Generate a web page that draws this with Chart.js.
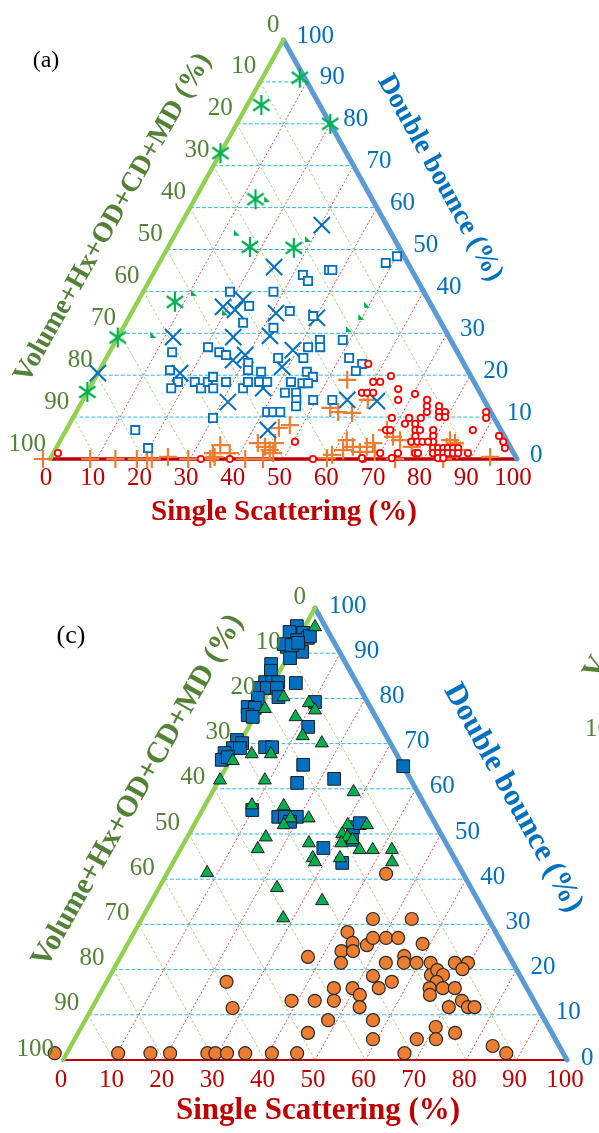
<!DOCTYPE html>
<html>
<head>
<meta charset="utf-8">
<script src="https://cdn.jsdelivr.net/npm/chart.js@4.4.1/dist/chart.umd.min.js"></script>
<style>
  body { margin: 0; background: #fff; width: 599px; height: 1133px; overflow: hidden; position: relative; }
  canvas { position: absolute; left: 0; }
  #chartA { top: 0; }
  #chartC { top: 560px; }
</style>
</head>
<body>
<canvas id="chartA" width="599" height="540"></canvas>
<canvas id="chartC" width="599" height="573"></canvas>
<script>
const SQ = Math.sqrt(3) / 2;

// tick values on the three ternary axes
const gridTicks = [10, 20, 30, 40, 50, 60, 70, 80, 90];
const tickLabels = [0, 10, 20, 30, 40, 50, 60, 70, 80, 90, 100];

// every point is [single scattering %, double bounce %]; volume = 100 - both
// panel (a)
const aAsterisk = [[8,91],[20,80],[3,84.5],[0,73],[13,62],[17.5,50.6],[27,50.4],[8,37.5],[0,29],[0,16]];
const aTriangle = [[15.5,62],[13,54],[29,52.5],[11,39.6],[20,35],[7.3,29.6],[49.5,36.8],[49.7,33.9],[48.5,31]];
const aCross = [[30.3,55.8],[25.1,45.8],[18.9,36.3],[22.4,37.9],[21.8,35.6],[31,34.8],[40.3,33.7],[11.8,29.1],
  [24.7,29.1],[32.4,29.4],[29.4,24.8],[27.4,23.6],[39,26],[38.7,22],[17.6,20.5],[37.2,16.9],[31.3,13.6],
  [43.2,6.9],[0,20.5],[56.6,14.1],[63.1,13.8]];
const aSquare = [[32.2,43.9],[34,42.5],[37.2,45.1],[27.9,39.9],[18.6,39.9],[24.4,36.5],[33.7,35.3],[39.3,34.1],
  [25.1,32.5],[32.2,31.3],[20.5,26.7],[23.5,25.5],[13.4,25.5],[25.3,24.8],[41.9,26.7],[43.6,28.4],[44.5,26.7],
  [42.2,24.1],[36.8,24.1],[31,22.9],[31.8,21.2],[15.1,21.2],[34.8,20.8],[44.6,20.8],[46.5,19.6],[18.2,18.4],
  [21.8,18.4],[23.9,16.9],[24.6,18.4],[25.1,19.6],[26.5,16.9],[28.5,18.4],[32.9,16.9],[33.2,18.4],[35.6,18.4],
  [37.3,18.4],[42.4,18.4],[45,18.1],[46.2,18.1],[17.5,16.9],[42.4,15.8],[44.8,15.8],[45.7,14.1],[46.4,12.6],
  [49.3,14.1],[40.9,11.2],[42.2,11.2],[43.7,11.2],[30,9.8],[14.8,6.9],[19.7,2.6],[50.1,48.4],[48.5,46.8],
  [37.9,45.1],[48.5,28.4],[52,24.1],[55.5,22.7],[55,21],[53.4,14.1]];
const aPlus = [[-1.5,0],[8.6,0],[14,0],[18.6,0],[20.8,0],[21.8,0],[25,0.5],[29.6,0],[34.3,0],[35,0.5],[34.8,3.3],
  [37.8,1.4],[41.8,0],[42.6,3.8],[44.6,2.9],[46,2.1],[46.3,3.8],[47.1,1.4],[45.6,0],[45.3,7.4],[47.3,8.1],
  [54.2,18.9],[53.9,12.2],[56.1,11.2],[59.2,11],[59.2,0.2],[61.3,4.5],[63.4,2.9],[65.5,1.7],[66.4,2.9],[68.7,1.7],
  [67.3,3.8],[61,14.1],[68.7,6.9],[70.8,5.3],[73.9,0],[76,2.9],[83.5,2.9],[83.4,4.5],[84.8,3.8],[84.2,0],
  [86.1,2.1],[94,0.5],[61.7,2.1],[59.9,1],[72.7,4.5],[34.2,1.4]];
const aCircle = [[1,1.4],[32.3,0],[38.5,0],[50.4,4.1],[56.3,0],[67,0],[56.8,22.7],[60,18.4],[61.5,18.4],[63.1,19.8],
  [58.9,15.8],[60,15.8],[61.3,15.8],[66.2,16.7],[67.5,14.1],[70.4,15.5],[73.7,14.1],[74.4,12.6],[75.1,11.2],
  [77,12.6],[77.7,11.2],[78.3,10],[79,11.2],[79.6,10],[68.3,9.8],[72,9.8],[74.5,9.8],[71.8,8.4],[74,8.4],
  [68.5,6.9],[69.4,6.9],[74.8,6.9],[75.5,5.5],[75.8,6.9],[75.3,4.1],[76.6,4.1],[77.7,4.1],[78.6,6.9],[79.3,5.5],
  [80,4.1],[78.9,4.1],[80.7,2.6],[81.8,2.6],[82.9,2.6],[83.9,2.6],[85,2.6],[86.1,2.6],[77.5,1.4],[78.1,1.4],
  [81.3,1.4],[82.4,1.4],[83.5,1.4],[84.5,1.4],[85.6,1.4],[86.7,1.4],[83,0.2],[84.1,0.2],[88.8,1.4],[87.1,6.9],
  [87.8,11.2],[88.5,9.8],[93.4,5.5],[95,4.1],[96.1,2.6],[70,1.4],[73.1,0.2],[73.8,1.4],[66.7,0.2]];

// panel (c)
const cSquare = [[-1.6,96],[0.4,94.5],[-2.4,94.7],[1.9,93.4],[0,92.9],[-1.3,91.4],[2.3,90.3],[0.6,88.9],[-2.2,92],
  [-0.5,91.8],[2.1,93.8],[0.5,92.3],[-2.5,87.6],[-1.8,86.1],[-1.7,83.6],[-0.3,83.6],[0.9,83.6],[-2.1,82.3],
  [-0.7,82.3],[1.3,82.3],[-1.4,80.1],[-2.4,78.1],[-0.9,77.9],[-1.5,76.3],[-0.3,75.9],[2.6,80.3],[4.5,83.4],
  [-0.9,70.8],[0.5,70.1],[-0.8,69],[0.6,69],[-1.9,67.9],[-1.7,66.4],[-0.8,67],[5.5,69.2],[6.9,69.2],[10.4,79.2],
  [11.8,73.7],[15,65.3],[15.8,61.3],[22.7,62.2],[35,65],[9.9,55.3],[15.8,53.8],[17.1,53.8],[19.5,53.8],
  [18.7,52.7],[31.8,51.5],[32.7,52.4],[33,48.7],[28.2,46.9],[33.6,43.6]];
const cTriangle = [[2.1,95.8],[3.6,80.3],[1.2,77.7],[8.2,75.9],[9.3,79],[11.3,77.4],[11.7,71.7],[16.3,70.1],
  [3.6,67.7],[7.4,67.7],[0.6,66.2],[0.2,61.9],[9.1,61.9],[28,59.3],[9.3,56.4],[15.7,56.2],[18.4,53.5],[22,53.5],
  [17.8,52],[30.5,52],[34.3,52],[30.4,50],[31.8,49.3],[33.1,48.7],[31.2,48],[15.6,49.3],[24.8,48],[15.3,46.7],
  [35.6,46.5],[38.2,46.5],[42,46.5],[27.2,44.7],[32.6,44.7],[43.4,43.8],[33.8,35.2],[7.9,41.4],[23.4,38.1],
  [28,31.4],[28.1,43.8]];
const cCircle = [[45.9,31.2],[53.6,31.2],[42.3,28.3],[44.5,25.9],[43.2,24.1],[45.5,24.1],[47.6,25.4],[48,27],
  [50.6,27],[53,27],[58.5,25.7],[37.2,22.8],[44.4,21.5],[53.3,21.5],[56.2,23],[56.9,21.5],[59.4,21.5],[62.2,21.5],
  [67,21.5],[69.6,21.5],[69.2,20.1],[63.6,18.8],[64.3,19.9],[66,18.8],[65.5,17.3],[52.2,18.6],[56.6,17.3],
  [54.7,15.9],[49.5,15.9],[51.7,14.4],[53,11.7],[45.8,15.9],[47.2,13.1],[43.4,13.1],[38.8,13.1],[64.8,15.9],
  [65.6,14.4],[67.4,15.9],[69.8,15.9],[72.6,13.1],[74.5,11.7],[75.8,11.7],[70.7,11.7],[48.2,8.8],[57.1,8.8],
  [45.6,6],[59.2,4.6],[67.9,4.6],[70.3,7.3],[71.7,4.6],[74.8,6],[83.7,3.1],[23.8,17.3],[27.9,11.5],[43.5,41.2],
  [-2.4,1.5],[10.2,1.5],[16.6,1.5],[20.5,1.5],[27.9,1.5],[29.5,1.5],[31.8,1.5],[35.4,1.5],[40.7,1.5],[45.7,1.5],
  [67,1.5],[87.2,1.5]];

const RED_TXT = '#c00000', BLUE_TXT = '#0070c0', GREEN_TXT = '#538135';
const SERIF = '"Liberation Serif", "Times New Roman", serif';

// ternary (single, double) -> cartesian for the linear scales
function toXY(pairs) {
    return pairs.map(p => ({ x: p[0] + p[1] / 2, y: p[1] * SQ }));
}

function lineSet(points, color, width, dash) {
    return {
        data: toXY(points), showLine: true, pointRadius: 0, borderColor: color,
        borderWidth: width, borderDash: dash || [], clip: false, order: 20
    };
}

function gridSets() {
    const sets = [];
    gridTicks.forEach(t => {
        sets.push(lineSet([[t, 0], [t, 100 - t]], '#e2504a', 1, [2, 2]));        // constant single scattering
        sets.push(lineSet([[0, t], [100 - t, t]], '#2fb5ee', 1, [4, 2]));        // constant double bounce
        sets.push(lineSet([[0, 100 - t], [100 - t, 0]], '#a9d67a', 1, [3, 2]));  // constant volume
    });
    return sets;
}

function frameSets(bottomWidth) {
    const left = lineSet([[0, 0], [0, 100]], '#92d050', 4.5);
    const right = lineSet([[100, 0], [0, 100]], '#5b9bd5', 5);
    const bottom = lineSet([[0, 0], [100, 0]], '#c00000', bottomWidth);
    [left, right, bottom].forEach(s => { s.order = 15; s.borderCapStyle = 'round'; });
    return [left, right, bottom];
}

// hoverRadius only widens the "in area" margin so marks just outside the triangle still draw
function markerSet(points, style, extra) {
    return Object.assign({ data: toXY(points), pointStyle: style, showLine: false, clip: false, hoverRadius: 20 }, extra);
}

function asteriskImage(size, color) {
    const c = document.createElement('canvas');
    c.width = size; c.height = size;
    const g = c.getContext('2d');
    g.strokeStyle = color; g.lineWidth = 2.2;
    const r = size / 2 - 1;
    [90, 35, 145].forEach(a => {
        const dx = Math.cos(a * Math.PI / 180) * r, dy = Math.sin(a * Math.PI / 180) * r;
        g.beginPath(); g.moveTo(size / 2 - dx, size / 2 - dy); g.lineTo(size / 2 + dx, size / 2 + dy); g.stroke();
    });
    return c;
}

function smallTriangleImage(size, color) {
    const c = document.createElement('canvas');
    c.width = size; c.height = size;
    const g = c.getContext('2d');
    g.fillStyle = color;
    g.beginPath(); g.moveTo(1, 1); g.lineTo(1, size - 1); g.lineTo(size - 1, size - 1); g.closePath(); g.fill();
    return c;
}

function textPlugin(cfg) {
    return {
        id: 'ternaryText',
        afterDraw(chart) {
            const ctx = chart.ctx, sx = chart.scales.x, sy = chart.scales.y;
            const at = (s, d) => [sx.getPixelForValue(s + d / 2), sy.getPixelForValue(d * SQ)];
            ctx.save();
            ctx.textBaseline = 'middle';
            ctx.font = cfg.tickSize + 'px ' + SERIF;
            tickLabels.forEach(t => {
                let [x, y] = at(t, 0);
                ctx.fillStyle = RED_TXT; ctx.textAlign = 'center';
                ctx.fillText(String(t), x + cfg.bottomOff[0], y + cfg.bottomOff[1]);
                [x, y] = at(100 - t, t);
                ctx.fillStyle = BLUE_TXT; ctx.textAlign = 'left';
                ctx.fillText(String(t), x + cfg.rightOff[0], y + cfg.rightOff[1]);
                [x, y] = at(0, 100 - t);
                ctx.fillStyle = GREEN_TXT; ctx.textAlign = 'right';
                ctx.fillText(String(t), x + cfg.leftOff[0], y + cfg.leftOff[1]);
            });
            cfg.titles.forEach(tt => {
                ctx.save();
                ctx.translate(tt.x, tt.y);
                ctx.rotate((tt.angle || 0) * Math.PI / 180);
                ctx.font = (tt.bold ? 'bold ' : '') + tt.size + 'px ' + SERIF;
                ctx.fillStyle = tt.color;
                ctx.textAlign = tt.align || 'center';
                ctx.fillText(tt.text, 0, 0);
                ctx.restore();
            });
            ctx.restore();
        }
    };
}

function buildChart(id, padding, datasets, cfg) {
    return new Chart(document.getElementById(id), {
        type: 'scatter',
        data: { datasets },
        options: {
            responsive: false,
            animation: false,
            events: [],
            layout: { padding },
            plugins: { legend: { display: false }, tooltip: { enabled: false } },
            scales: {
                x: { type: 'linear', display: false, min: 0, max: 100 },
                y: { type: 'linear', display: false, min: 0, max: 100 * SQ }
            }
        },
        plugins: [textPlugin(cfg)]
    });
}

// panel (a)
buildChart('chartA', { left: 50, right: 82, top: 40, bottom: 81 }, [
    markerSet(aCircle, 'circle', { radius: 3.2, borderColor: '#ff0000', backgroundColor: '#ffffff', borderWidth: 1.8, order: 1 }),
    markerSet(aTriangle, smallTriangleImage(8, '#00b050'), { radius: 4, order: 2 }),
    markerSet(aAsterisk, asteriskImage(22, '#00b050'), { radius: 10, order: 3 }),
    markerSet(aSquare, 'rect', { radius: 5.8, borderColor: '#0070c0', backgroundColor: '#ffffff', borderWidth: 1.8, order: 4 }),
    markerSet(aCross, 'crossRot', { radius: 11.5, borderColor: '#0070c0', borderWidth: 2, order: 5 }),
    markerSet(aPlus, 'cross', { radius: 9, borderColor: '#ed7d31', borderWidth: 2.2, order: 6 }),
    ...frameSets(3.5),
    ...gridSets()
], {
    tickSize: 25,
    bottomOff: [-4, 19],
    rightOff: [13, -4],
    leftOff: [-4, -15],
    titles: [
        { text: '(a)', x: 46, y: 61, size: 24, color: '#000000' },
        { text: 'Single Scattering (%)', x: 284, y: 513, size: 29, bold: true, color: RED_TXT },
        { text: 'Double bounce (%)', x: 440, y: 178, size: 28, bold: true, color: BLUE_TXT, angle: 61 },
        { text: 'Volume+Hx+OD+CD+MD (%)', x: 113, y: 218, size: 28, bold: true, color: GREEN_TXT, angle: -60.5 }
    ]
});

// panel (c)
buildChart('chartC', { left: 63, right: 32, top: 48, bottom: 73 }, [
    markerSet(cTriangle, 'triangle', { radius: 7.5, borderColor: '#1e1e1e', backgroundColor: '#00b050', borderWidth: 1, order: 1 }),
    markerSet(cSquare, 'rect', { radius: 9, borderColor: '#1e1e1e', backgroundColor: '#0070c0', borderWidth: 1, order: 2 }),
    markerSet(cCircle, 'circle', { radius: 6.5, borderColor: '#2a2a2a', backgroundColor: '#ed7d31', borderWidth: 1.2, order: 3 }),
    ...frameSets(2),
    ...gridSets()
], {
    tickSize: 25,
    bottomOff: [-2, 20],
    rightOff: [14, -2],
    leftOff: [-9, -11],
    titles: [
        { text: '(c)', x: 71, y: 76, size: 26, color: '#000000' },
        { text: 'Single Scattering (%)', x: 318, y: 551, size: 31, bold: true, color: RED_TXT },
        { text: 'Double bounce (%)', x: 513, y: 238, size: 31, bold: true, color: BLUE_TXT, angle: 61 },
        { text: 'Volume+Hx+OD+CD+MD (%)', x: 138, y: 231, size: 30, bold: true, color: GREEN_TXT, angle: -60.5 },
        { text: '10', x: 585, y: 169, size: 25, color: GREEN_TXT, align: 'left' },
        { text: 'V', x: 596, y: 108, size: 29, bold: true, color: GREEN_TXT, angle: -60.5 }
    ]
});
</script>
</body>
</html>
